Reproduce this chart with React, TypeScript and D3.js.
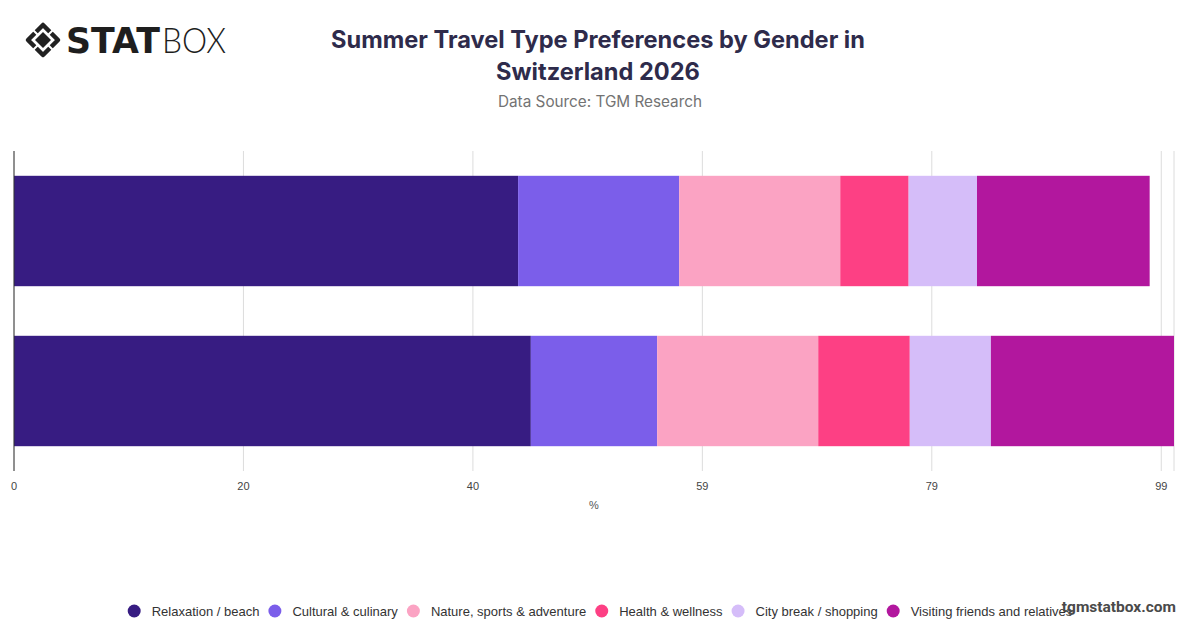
import React, { useEffect, useRef } from "react";
import * as d3 from "d3";

// Chart data (values in %)
const categories = ["Male", "Female"];
const seriesNames = [
  "Relaxation / beach",
  "Cultural & culinary",
  "Nature, sports & adventure",
  "Health & wellness",
  "City break / shopping",
  "Visiting friends and relatives",
];
const seriesColors = ["#371c82", "#7b5eea", "#fba3c3", "#fd4084", "#d5bdf9", "#b2179e"];

const relaxation = [43.5, 44.6];
const cultural = [13.9, 10.9];
const nature = [13.9, 13.9];
const health = [5.9, 7.9];
const cityBreak = [5.9, 7.0];
const visiting = [14.9, 15.8];

const tickValues = [0, 19.8, 39.6, 59.4, 79.2, 99];

const W = 1200;
const H = 628;

const App: React.FC = () => {
  const svgRef = useRef<SVGSVGElement>(null);

  useEffect(() => {
    if (!svgRef.current) return;
    const svg = d3.select(svgRef.current);
    svg.selectAll("*").remove();

    const margin = { top: 151, right: 26, bottom: 157, left: 14 };
    const innerW = W - margin.left - margin.right;
    const innerH = H - margin.top - margin.bottom;

    const allSeries = [relaxation, cultural, nature, health, cityBreak, visiting];
    const rows = categories.map((c, i) => {
      const row: Record<string, any> = { category: c };
      seriesNames.forEach((s, j) => (row[s] = allSeries[j][i]));
      return row;
    });
    const stacked = d3.stack<any>().keys(seriesNames)(rows);
    const maxTotal = d3.max(rows, (r) => d3.sum(seriesNames, (s) => r[s])) as number;

    const x = d3.scaleLinear().domain([0, maxTotal]).range([0, innerW]);
    const y = d3.scaleBand().domain(categories).range([0, innerH]).paddingInner(0.31).paddingOuter(0.155);
    const color = d3.scaleOrdinal<string>().domain(seriesNames).range(seriesColors);

    const g = svg.append("g").attr("transform", `translate(${margin.left},${margin.top})`);

    // Grid lines
    g.selectAll(".grid")
      .data([...tickValues, maxTotal])
      .enter()
      .append("line")
      .attr("x1", (d) => x(d))
      .attr("x2", (d) => x(d))
      .attr("y1", 0)
      .attr("y2", innerH)
      .attr("stroke", "#dcdcdc")
      .attr("stroke-width", 1);

    // Bars
    g.selectAll(".layer")
      .data(stacked)
      .enter()
      .append("g")
      .attr("fill", (d) => color(d.key))
      .selectAll("rect")
      .data((d) => d)
      .enter()
      .append("rect")
      .attr("x", (d) => x(d[0]))
      .attr("width", (d) => x(d[1]) - x(d[0]))
      .attr("y", (d) => y(d.data.category) as number)
      .attr("height", y.bandwidth());

    // Left axis line
    g.append("line")
      .attr("x1", 0)
      .attr("x2", 0)
      .attr("y1", 0)
      .attr("y2", innerH)
      .attr("stroke", "#333")
      .attr("stroke-width", 1);

    // X tick labels
    g.selectAll(".tick-label")
      .data(tickValues)
      .enter()
      .append("text")
      .attr("x", (d) => x(d))
      .attr("y", innerH + 19)
      .attr("text-anchor", "middle")
      .attr("font-family", "'Liberation Sans', Arial, sans-serif")
      .attr("font-size", 11)
      .attr("fill", "#444")
      .text((d) => d3.format(".0f")(d));

    g.append("text")
      .attr("x", innerW / 2)
      .attr("y", innerH + 38)
      .attr("text-anchor", "middle")
      .attr("font-family", "'Liberation Sans', Arial, sans-serif")
      .attr("font-size", 11)
      .attr("fill", "#555")
      .text("%");

    // Title & subtitle
    const titleFont = "Inter, 'Noto Sans', sans-serif";
    svg.append("text")
      .attr("x", 598)
      .attr("y", 48)
      .attr("text-anchor", "middle")
      .attr("font-family", titleFont)
      .attr("font-weight", 700)
      .attr("font-size", 23.6)
      .attr("fill", "#2e2b4b")
      .text("Summer Travel Type Preferences by Gender in");
    svg.append("text")
      .attr("x", 598)
      .attr("y", 80)
      .attr("text-anchor", "middle")
      .attr("font-family", titleFont)
      .attr("font-weight", 700)
      .attr("font-size", 23.6)
      .attr("fill", "#2e2b4b")
      .text("Switzerland 2026");
    svg.append("text")
      .attr("x", 600)
      .attr("y", 107)
      .attr("text-anchor", "middle")
      .attr("font-family", titleFont)
      .attr("font-size", 15.3)
      .attr("fill", "#737373")
      .text("Data Source: TGM Research");

    // Logo
    const logo = svg.append("g").attr("transform", "translate(43,40)");
    logo.append("path")
      .attr("d", "M0,-15 L15,0 L0,15 L-15,0 Z")
      .attr("fill", "none")
      .attr("stroke", "#222")
      .attr("stroke-width", 4.5)
      .attr("stroke-linejoin", "round");
    logo.append("path").attr("d", "M0,-8 L8,0 L0,8 L-8,0 Z").attr("fill", "#222");
    [[-1, -1], [1, -1], [1, 1], [-1, 1]].forEach(([sx, sy]) => {
      logo.append("line")
        .attr("x1", sx * 5)
        .attr("y1", sy * 5)
        .attr("x2", sx * 12)
        .attr("y2", sy * 12)
        .attr("stroke", "#fff")
        .attr("stroke-width", 2);
    });
    svg.append("text")
      .attr("x", 66)
      .attr("y", 53)
      .attr("font-family", "'DejaVu Sans', sans-serif")
      .attr("font-weight", 900)
      .attr("font-size", 35)
      .attr("textLength", 94)
      .attr("lengthAdjust", "spacingAndGlyphs")
      .attr("fill", "#1e1e1e")
      .text("STAT");
    svg.append("text")
      .attr("x", 162)
      .attr("y", 53)
      .attr("font-family", "Lato, 'Noto Sans', sans-serif")
      .attr("font-weight", 300)
      .attr("font-size", 36)
      .attr("textLength", 64)
      .attr("lengthAdjust", "spacingAndGlyphs")
      .attr("fill", "#1e1e1e")
      .text("BOX");

    // Legend (centered, laid out from measured text widths)
    const legend = svg.append("g");
    let cursor = 0;
    seriesNames.forEach((name) => {
      const item = legend.append("g").attr("transform", `translate(${cursor},0)`);
      item.append("circle").attr("cx", 6.5).attr("cy", 0).attr("r", 6.5).attr("fill", color(name));
      const t = item.append("text")
        .attr("x", 24)
        .attr("y", 4.5)
        .attr("font-family", "'Liberation Sans', Arial, sans-serif")
        .attr("font-size", 13)
        .attr("fill", "#333")
        .text(name);
      const tw = (t.node() as SVGTextElement).getComputedTextLength();
      cursor += 24 + tw + 9;
    });
    const legendW = cursor - 9;
    legend.attr("transform", `translate(${600 - legendW / 2},611)`);

    // Watermark
    svg.append("text")
      .attr("x", 1176)
      .attr("y", 612)
      .attr("text-anchor", "end")
      .attr("font-family", "Roboto, 'Liberation Sans', sans-serif")
      .attr("font-weight", 700)
      .attr("font-size", 15.5)
      .attr("fill", "#4a4a4a")
      .text("tgmstatbox.com");
  }, []);

  return (
    <svg
      ref={svgRef}
      width={W}
      height={H}
      style={{ position: "absolute", left: 0, top: 0, background: "#fff" }}
    />
  );
};

export default App;
